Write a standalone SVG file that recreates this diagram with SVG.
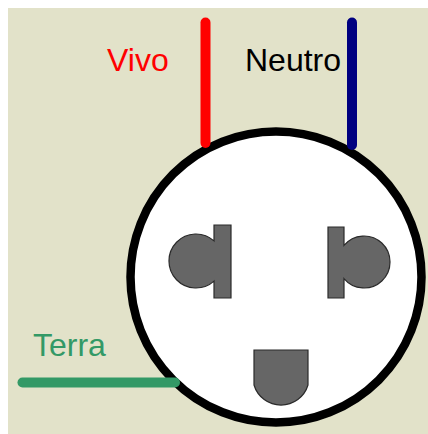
<svg xmlns="http://www.w3.org/2000/svg" width="428" height="434" viewBox="0 0 428 434">
  <style>
    .label { font-family: "Liberation Sans", Arial, sans-serif; font-size: 32px; }
    .wire { fill: none; stroke-width: 10; stroke-linecap: round; }
    .pin { fill: #666666; stroke: #2a2a2a; stroke-width: 1.2; stroke-linejoin: miter; }
  </style>
  <rect x="0" y="0" width="428" height="434" fill="#ffffff"/>
  <rect x="8" y="8" width="420" height="426" fill="#e2e2c9"/>

  <!-- socket face -->
  <g id="socket">
    <circle cx="276" cy="277" r="145.5" fill="#ffffff" stroke="#000000" stroke-width="8.5"/>
    <!-- live pin: round contact with flat blade -->
    <path id="pin-live" class="pin" d="M214,225 H231 V298 H214 V281.1 A27,27 0 1 1 214,240.9 Z"/>
    <!-- neutral pin -->
    <path id="pin-neutral" class="pin" d="M328,227 H344 V245.4 A26,26 0 1 1 344,278.6 V298 H328 Z"/>
    <!-- earth pin -->
    <path id="pin-earth" class="pin" d="M254,350 H308 V385 A28.2,28.2 0 0 1 254,385 Z"/>
  </g>

  <!-- wires -->
  <g id="connectors">
    <line class="wire" x1="205.5" y1="22.5" x2="205.5" y2="143" stroke="#ff0000"/>
    <line class="wire" x1="352" y1="22.5" x2="352" y2="145" stroke="#000080"/>
    <line class="wire" x1="22.5" y1="382.5" x2="175" y2="382.5" stroke="#339966"/>
  </g>

  <g id="label-vivo"><text class="label" x="107" y="71" fill="#ff0000">Vivo</text></g>
  <g id="label-neutro"><text class="label" x="245" y="71" fill="#000000">Neutro</text></g>
  <g id="label-terra"><text class="label" x="33" y="356" fill="#339966">Terra</text></g>
</svg>
